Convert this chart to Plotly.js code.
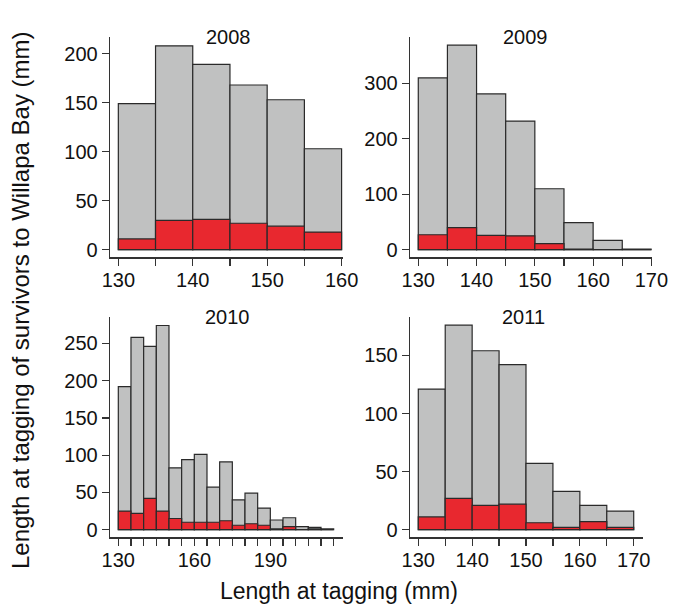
<!DOCTYPE html>
<html>
<head>
<meta charset="utf-8">
<script src="https://cdn.plot.ly/plotly-3.0.1.min.js"></script>
<style>html,body{margin:0;padding:0;background:#fff;}#chart{width:681px;height:606px;}</style>
</head>
<body>
<div id="chart"></div>
<script>
// Bin left edges (mm), 5 mm wide bins
var bins2008 = [130, 135, 140, 145, 150, 155];
var total2008 = [149, 208, 189, 168, 153, 103];
var surv2008  = [11, 30, 31, 27, 24, 18];

var bins2009 = [130, 135, 140, 145, 150, 155, 160, 165];
var total2009 = [310, 369, 281, 232, 110, 49, 17, 1];
var surv2009  = [27, 40, 26, 25, 11, 1, 0, 0];

var bins2010 = [130, 135, 140, 145, 150, 155, 160, 165, 170, 175, 180, 185, 190, 195, 200, 205, 210];
var total2010 = [192, 258, 246, 274, 83, 94, 101, 57, 91, 40, 49, 29, 13, 16, 4, 3, 1];
var surv2010  = [25, 22, 42, 25, 15, 10, 10, 10, 12, 6, 8, 6, 1, 4, 0, 1, 0];

var bins2011 = [130, 135, 140, 145, 150, 155, 160, 165];
var total2011 = [121, 176, 154, 142, 57, 33, 21, 16];
var surv2011  = [11, 27, 21, 22, 6, 2, 7, 2];

var binWidth = 5;
var years = ['2008', '2009', '2010', '2011'];
var xTitle = 'Length at tagging (mm)';
var yTitle = 'Length at tagging of survivors to Willapa Bay (mm)';

var W = 681, H = 606;
var FONT = 'Liberation Sans, Arial, Helvetica, sans-serif';
var grey = '#c0c1c1', red = '#e8282f', edge = '#2a2a2a';
var TICK = 20, YEAR = 20, AXT = 24, XT = 23;

function barPair(bins, tot, sur, xa, ya) {
  var base = {type: 'bar', x: bins, offset: 0, width: binWidth, xaxis: xa, yaxis: ya,
              hoverinfo: 'x+y', showlegend: false};
  var t = Object.assign({}, base, {y: tot, marker: {color: grey, line: {color: edge, width: 1.2}}});
  var s = Object.assign({}, base, {y: sur, marker: {color: red, line: {color: edge, width: 1.2}}});
  return [t, s];
}

var data = [].concat(
  barPair(bins2008, total2008, surv2008, 'x', 'y'),
  barPair(bins2009, total2009, surv2009, 'x2', 'y2'),
  barPair(bins2010, total2010, surv2010, 'x3', 'y3'),
  barPair(bins2011, total2011, surv2011, 'x4', 'y4')
);

function ticksEvery(start, end, step, labelStep) {
  var v = [], t = [];
  for (var k = start; k <= end; k += step) {
    v.push(k);
    t.push(((k - start) % labelStep === 0) ? String(k) : '');
  }
  return {v: v, t: t};
}

var tk2008 = ticksEvery(130, 160, 5, 10);
var tk2009 = ticksEvery(130, 170, 5, 10);
var tk2010 = ticksEvery(130, 215, 5, 30);
var tk2011 = ticksEvery(130, 170, 5, 10);

function xax(dom, rng, tk) {
  return {domain: dom, range: rng, tickvals: tk.v, ticktext: tk.t, ticks: 'outside', ticklen: 7,
          tickwidth: 1.2, tickcolor: '#333', showline: true, linecolor: '#333', linewidth: 1.3,
          showgrid: false, zeroline: false, fixedrange: true, ticklabelstandoff: -3,
          tickfont: {family: FONT, size: TICK, color: '#111'}, automargin: false};
}
function yax(dom, rng, tv) {
  return {domain: dom, range: rng, tickvals: tv, ticks: 'outside', ticklen: 7,
          tickwidth: 1.2, tickcolor: '#333', showline: true, linecolor: '#333', linewidth: 1.3,
          showgrid: false, zeroline: false, fixedrange: true,
          tickfont: {family: FONT, size: TICK, color: '#111'}, automargin: false};
}

var topDom = [1 - 257.3 / H, 1 - 36.7 / H];
var botDom = [1 - 537.3 / H, 1 - 316.7 / H];

function yearNote(txt, px, py) {
  return {text: txt, xref: 'paper', yref: 'paper', x: px / W, y: 1 - py / H, showarrow: false,
          xanchor: 'center', yanchor: 'middle', font: {family: FONT, size: YEAR, color: '#111'}};
}

var layout = {
  width: W, height: H,
  margin: {l: 0, r: 0, t: 0, b: 0},
  paper_bgcolor: '#fff', plot_bgcolor: 'rgba(0,0,0,0)',
  barmode: 'overlay',
  font: {family: FONT, color: '#111'},
  xaxis:  xax([110 / W, 343 / W], [128.88, 160.19], tk2008),
  yaxis:  Object.assign(yax(topDom, [-7.76, 217.3], [0, 50, 100, 150, 200]), {anchor: 'x'}),
  xaxis2: Object.assign(xax([410 / W, 651.7 / W], [128.58, 170.05], tk2009), {anchor: 'y2'}),
  yaxis2: Object.assign(yax(topDom, [-13.7, 384.3], [0, 100, 200, 300]), {anchor: 'x2'}),
  xaxis3: Object.assign(xax([110 / W, 343.3 / W], [126.72, 218.8], tk2010), {anchor: 'y3'}),
  yaxis3: Object.assign(yax(botDom, [-10.2, 285.8], [0, 50, 100, 150, 200, 250]), {anchor: 'x3'}),
  xaxis4: Object.assign(xax([410 / W, 643.3 / W], [128.46, 171.78], tk2011), {anchor: 'y4'}),
  yaxis4: Object.assign(yax(botDom, [-6.54, 183.3], [0, 50, 100, 150]), {anchor: 'x4'}),
  annotations: [
    yearNote(years[0], 228, 36.7),
    yearNote(years[1], 525, 36.7),
    yearNote(years[2], 227, 316.7),
    yearNote(years[3], 523, 316.7),
    {text: xTitle, xref: 'paper', yref: 'paper', x: 339 / W, y: 1 - 591 / H, showarrow: false,
     xanchor: 'center', yanchor: 'middle', font: {family: FONT, size: XT, color: '#111'}},
    {text: yTitle, xref: 'paper', yref: 'paper', x: 20 / W, y: 1 - 300 / H, showarrow: false,
     textangle: -90, xanchor: 'center', yanchor: 'middle', font: {family: FONT, size: AXT, color: '#111'}}
  ]
};

Plotly.newPlot('chart', data, layout, {displayModeBar: false, staticPlot: true});
</script>
</body>
</html>
